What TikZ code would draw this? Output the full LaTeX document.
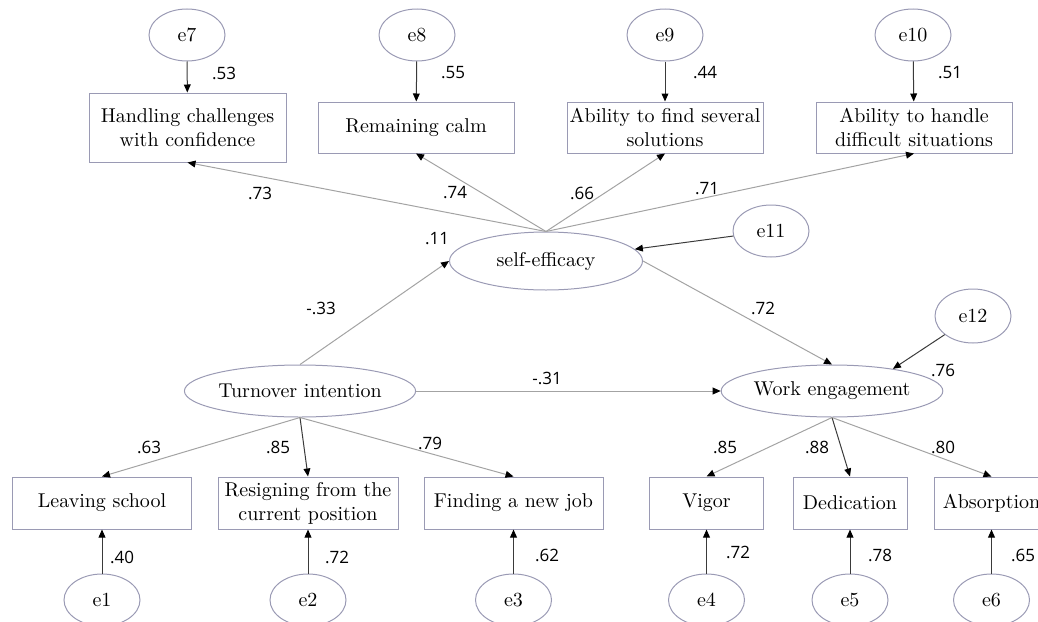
\documentclass[tikz,border=0pt]{standalone}
\usepackage{fontspec}
\newfontfamily\numfont{Open Sans}
\usetikzlibrary{arrows.meta,shapes.geometric}
\definecolor{linec}{HTML}{9A9AB4}
\definecolor{pathc}{HTML}{A3A3A3}
\definecolor{darkc}{HTML}{3A3A3A}

\begin{document}
\begin{tikzpicture}[x=0.5pt,y=-0.5pt,->,>={Triangle[length=4pt,width=3.4pt,color=black]},line width=0.5pt,
  lat/.style={draw=linec,ellipse,inner sep=0pt,minimum width=#1,minimum height=26pt,font=\fontsize{10}{12}\selectfont},
  err/.style={lat=38pt},
  obs/.style={draw=linec,rectangle,inner sep=0pt,minimum width=#1,minimum height=26pt,align=center,font=\fontsize{10}{12}\selectfont},
  coef/.style={font=\numfont\fontsize{8.5}{10}\selectfont,inner sep=0pt},
  soft/.style={draw=pathc},
  hard/.style={draw=darkc}]
  \useasboundingbox (0,0) rectangle (1038,621);
  % errors of the self-efficacy items
  \node[err] (e7) at (187,35) {e7};
  \node[err] (e8) at (417,35) {e8};
  \node[err] (e9) at (665,35) {e9};
  \node[err] (e10) at (913,35) {e10};
  \node[obs=98.5pt,minimum height=34.5pt] (h1) at (187.5,127.5) {Handling challenges\\with confidence};
  \node[obs=98pt,minimum height=25.5pt] (h2) at (416,127.5) {Remaining calm};
  \node[obs=98pt,minimum height=25.5pt] (h3) at (665,127.5) {Ability to find several\\solutions};
  \node[obs=98pt,minimum height=25.5pt] (h4) at (914,127.5) {Ability to handle\\difficult situations};
  % latent variables
  \node[lat=96.5pt,minimum height=29pt] (se) at (546,261) {self-efficacy};
  \node[err] (e11) at (771,231) {e11};
  \node[lat=98pt] (ti) at (300,391) {Turnover intention};
  \node[lat=97.5pt] (we) at (832,391) {Work engagement};
  \node[err,minimum height=27pt] (e12) at (973,316) {e12};
  % bottom items
  \node[obs=89.5pt] (t1) at (102,503) {Leaving school};
  \node[obs=90pt] (t2) at (308,503) {Resigning from the\\current position};
  \node[obs=89.5pt] (t3) at (513.5,503) {Finding a new job};
  \node[obs=57pt] (w1) at (706.5,503) {Vigor};
  \node[obs=57pt] (w2) at (850,503) {Dedication};
  \node[obs=57pt] (w3) at (991.5,503) {Absorption};
  \node[err] (e1) at (102,600) {e1};
  \node[err] (e2) at (308,600) {e2};
  \node[err] (e3) at (513.5,600) {e3};
  \node[err] (e4) at (706.5,600) {e4};
  \node[err] (e5) at (850,600) {e5};
  \node[err] (e6) at (991.5,600) {e6};

  \path
(e7) edge[hard] (h1)
(e8) edge[hard] (h2)
(e9) edge[hard] (h3)
(e10) edge[hard] (h4)
(se.north) edge[soft] (h1.south)
(se.north) edge[soft] (h2.south)
(se.north) edge[soft] (h3.south)
(se.north) edge[soft] (h4.south)
(e11) edge[hard] (se)
(ti.north) edge[soft] (se.west)
(se.east) edge[soft] (we.north)
(ti) edge[soft] (we)
(e12) edge[hard] (we.20)
(ti.south) edge[soft] (t1.north)
(ti.south) edge[hard] (t2.north)
(ti.south) edge[soft] (t3.north)
(we.south) edge[soft] (w1.north)
(we.south) edge[hard] (w2.north)
(we.south) edge[soft] (w3.north)
(e1) edge[hard] (t1)
(e2) edge[hard] (t2)
(e3) edge[hard] (t3)
(e4) edge[hard] (w1)
(e5) edge[hard] (w2)
(e6) edge[hard] (w3)
;

  % coefficients
  \node[coef] (c7) at (224,73) {.53};
  \node[coef] (c8) at (453,73) {.55};
  \node[coef] (c9) at (705,73) {.44};
  \node[coef] (c10) at (950,73) {.51};
  \node[coef] (l1) at (260,193) {.73};
  \node[coef] (l2) at (455,193) {.74};
  \node[coef] (l3) at (582,193) {.66};
  \node[coef] (l4) at (707,189) {.71};
  \node[coef] (r1) at (437,239) {.11};
  \node[coef] (p1) at (321,308) {-.33};
  \node[coef] (p2) at (763,308) {.72};
  \node[coef] (p3) at (547,378) {-.31};
  \node[coef] (r2) at (943,370) {.76};
  \node[coef] (m1) at (149,447) {.63};
  \node[coef] (m2) at (278,447) {.85};
  \node[coef] (m3) at (430,443) {.79};
  \node[coef] (m4) at (725,447) {.85};
  \node[coef] (m5) at (817,447) {.88};
  \node[coef] (m6) at (943,447) {.80};
  \node[coef] (c1) at (122,557) {.40};
  \node[coef] (c2) at (337,557) {.72};
  \node[coef] (c3) at (547,555) {.62};
  \node[coef] (c4) at (738,552) {.72};
  \node[coef] (c5) at (880,555) {.78};
  \node[coef] (c6) at (1023,555) {.65};
\end{tikzpicture}
\end{document}
